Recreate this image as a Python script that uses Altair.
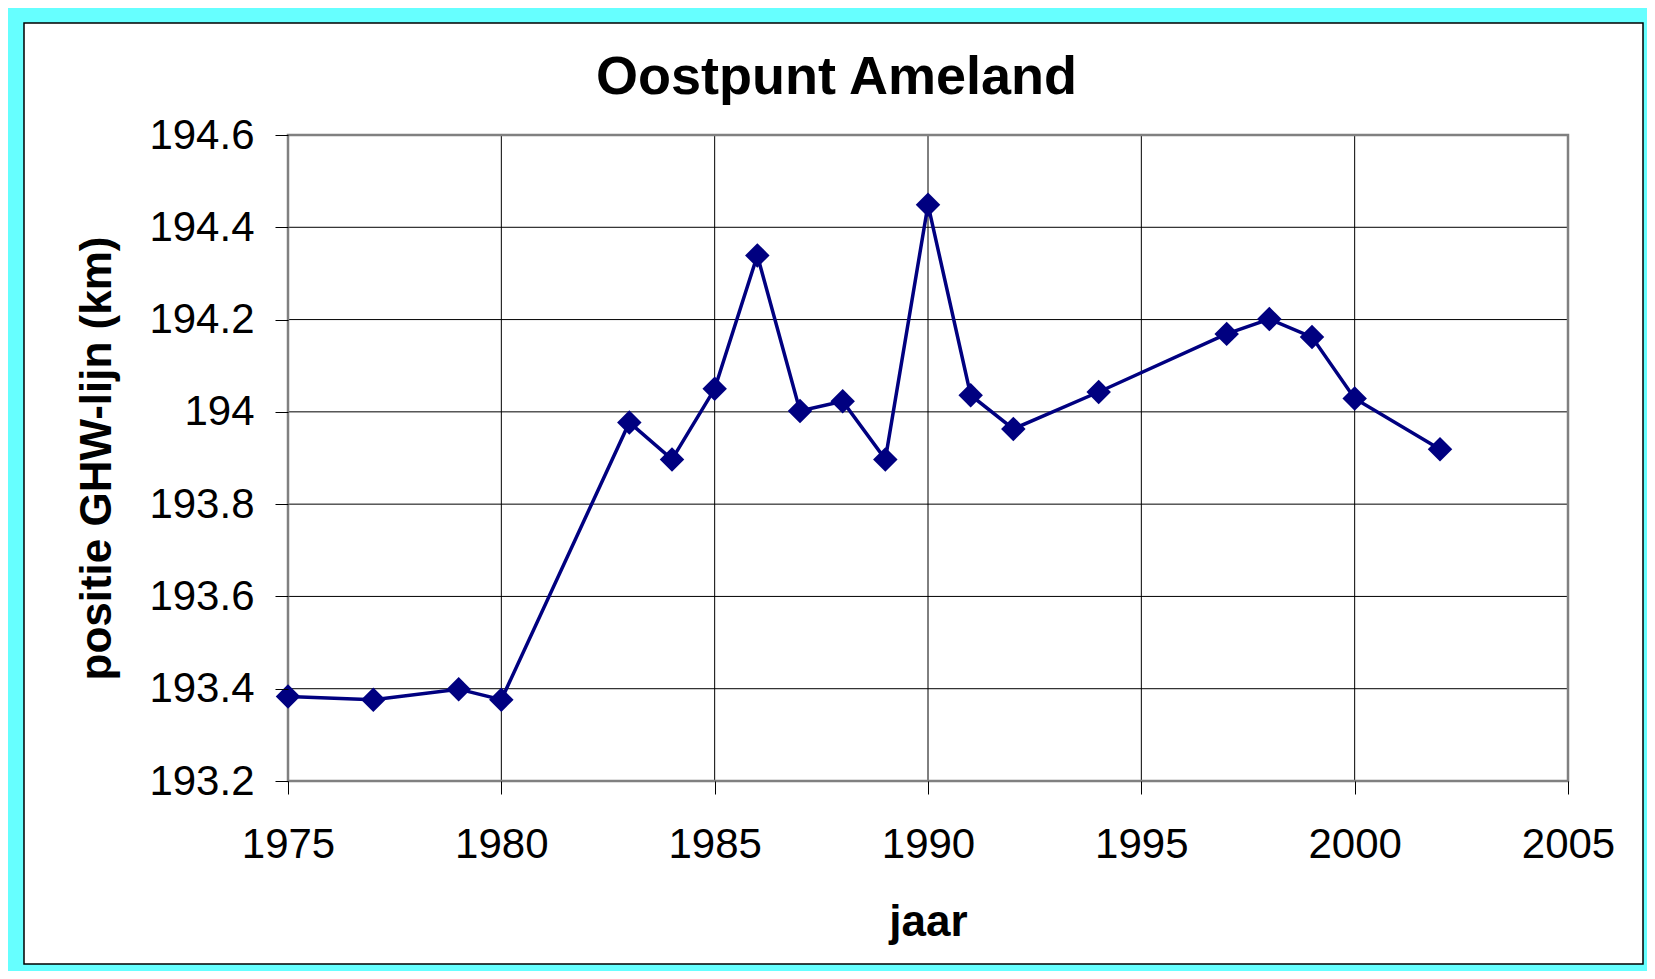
import altair as alt
import pandas as pd

years = [1975, 1977, 1979, 1980, 1983, 1984, 1985, 1986, 1987, 1988, 1989,
         1990, 1991, 1992, 1994, 1997, 1998, 1999, 2000, 2002]
positions = [193.383, 193.376, 193.399, 193.376, 193.977, 193.897, 194.050,
             194.339, 194.002, 194.023, 193.897, 194.449, 194.036, 193.963,
             194.043, 194.169, 194.201, 194.162, 194.029, 193.919]

x_ticks = [1975, 1980, 1985, 1990, 1995, 2000, 2005]
y_ticks = [193.2, 193.4, 193.6, 193.8, 194.0, 194.2, 194.4, 194.6]

title_text = "Oostpunt Ameland"
x_title = "jaar"
y_title = "positie GHW-lijn (km)"

W, H = 1280, 646
FONT = "Liberation Sans"
NAVY = "#000080"

df = pd.DataFrame({"jaar": years, "positie": positions})
xgrid = pd.DataFrame({"v": x_ticks})
ygrid = pd.DataFrame({"v": y_ticks})

xscale = alt.Scale(domain=[1975, 2005], nice=False, zero=False)
yscale = alt.Scale(domain=[193.2, 194.6], nice=False, zero=False)

xaxis = alt.Axis(values=x_ticks, format="d", grid=False, domain=False,
                 tickColor="black", tickSize=13, tickWidth=1,
                 labelFont=FONT, labelFontSize=42, labelColor="black",
                 labelPadding=30, labelFlush=False,
                 title=x_title, titleFont=FONT, titleFontSize=44,
                 titleFontWeight="bold", titleColor="black",
                 titleX=W / 2, titleY=154, titleBaseline="alphabetic",
                 titleAlign="center", zindex=1)
yaxis = alt.Axis(values=y_ticks, format=".1~f", grid=False, domain=False,
                 tickColor="black", tickSize=13, tickWidth=1,
                 labelFont=FONT, labelFontSize=42, labelColor="black",
                 labelPadding=21, labelFlush=False,
                 title=y_title, titleFont=FONT, titleFontSize=44,
                 titleFontWeight="bold", titleColor="black",
                 titleX=-178, titleY=H / 2, titleBaseline="alphabetic",
                 titleAlign="center", titleAngle=270, zindex=1)

frame = alt.Chart(alt.Data(values=[{}])).mark_rect(
    fill="white", stroke="black", strokeWidth=1.5
).encode(x=alt.value(-264), x2=alt.value(1355),
         y=alt.value(-112), y2=alt.value(829))

hgrid = alt.Chart(ygrid).mark_rule(color="black", strokeWidth=1).encode(
    y=alt.Y("v:Q", scale=yscale, axis=yaxis))
vgrid = alt.Chart(xgrid).mark_rule(color="black", strokeWidth=1).encode(
    x=alt.X("v:Q", scale=xscale, axis=xaxis))

border = alt.Chart(alt.Data(values=[{}])).mark_rect(
    fill=None, stroke="#808080", strokeWidth=2.5
).encode(x=alt.value(0), x2=alt.value(W), y=alt.value(0), y2=alt.value(H))

line = alt.Chart(df).mark_line(color=NAVY, strokeWidth=3.5).encode(
    x=alt.X("jaar:Q", scale=xscale, axis=xaxis),
    y=alt.Y("positie:Q", scale=yscale, axis=yaxis))
points = alt.Chart(df).mark_point(shape="diamond", filled=True, color=NAVY,
                                  size=600, opacity=1).encode(
    x=alt.X("jaar:Q", scale=xscale, axis=xaxis),
    y=alt.Y("positie:Q", scale=yscale, axis=yaxis))

chart = alt.layer(frame, hgrid, vgrid, border, line, points).properties(
    width=W, height=H,
    title=alt.TitleParams(text=title_text, font=FONT, fontSize=54,
                          fontWeight="bold", color="black", anchor="middle",
                          frame="bounds", dx=3, offset=-126,
                          baseline="alphabetic"),
    background="#66ffff",
    padding={"left": 280, "top": 127, "right": 79, "bottom": 190},
    autosize=alt.AutoSizeParams(type="none"),
).configure_view(stroke=None)

chart.save("out.html", embed_options={"renderer": "svg", "actions": False})
